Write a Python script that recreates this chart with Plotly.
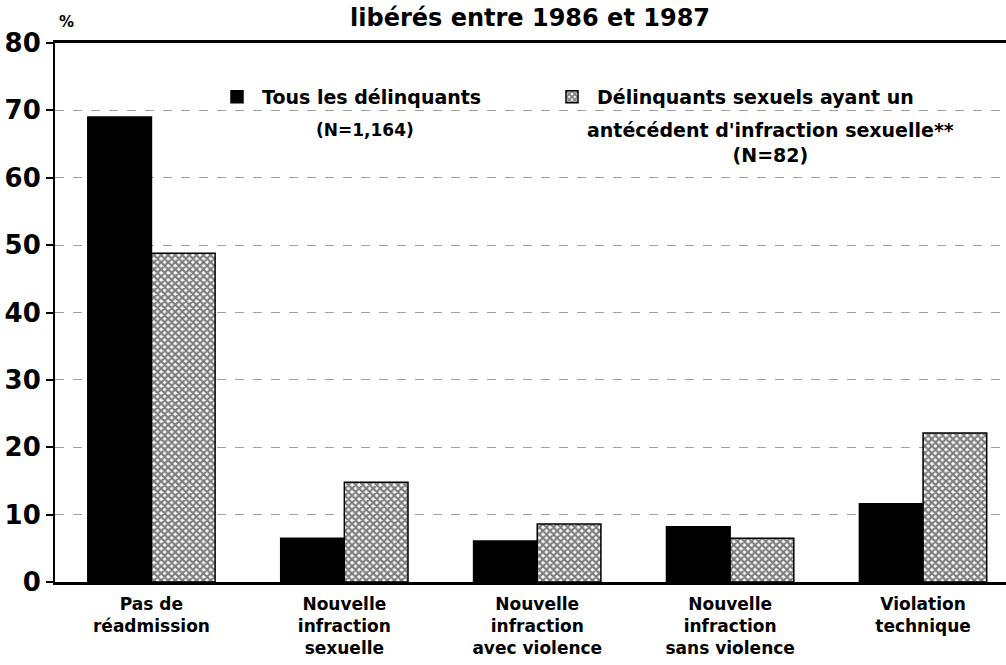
import plotly.graph_objects as go

categories = ["Pas de<br>réadmission", "Nouvelle<br>infraction<br>sexuelle",
              "Nouvelle<br>infraction<br>avec violence", "Nouvelle<br>infraction<br>sans violence",
              "Violation<br>technique"]
tous = [69.0, 6.5, 6.1, 8.2, 11.6]
sexuels = [48.8, 14.8, 8.6, 6.5, 22.1]
y_ticks = [0, 10, 20, 30, 40, 50, 60, 70, 80]

FONT = "DejaVu Sans"

fig = go.Figure()
fig.add_trace(go.Bar(
    x=categories, y=tous, name="Tous les délinquants", legend="legend",
    marker=dict(color="black", line=dict(color="black", width=1.5)),
))
fig.add_trace(go.Bar(
    x=categories, y=sexuels, name="Délinquants sexuels ayant un", legend="legend2",
    marker=dict(color="white", line=dict(color="black", width=1.5),
                pattern=dict(shape="x", fgcolor="black", bgcolor="white", size=5, solidity=0.7)),
))

leg_font = dict(family=FONT, size=19, color="black", weight="bold")
fig.update_layout(
    width=1006, height=665,
    margin=dict(l=55, r=0, t=43, b=83),
    paper_bgcolor="white", plot_bgcolor="white",
    barmode="group", bargap=0.34, bargroupgap=0,
    font=dict(family=FONT, color="black"),
    showlegend=True,
    legend=dict(x=(212 - 55) / 951, y=(582 - 97) / 539, xanchor="left", yanchor="middle",
                font=leg_font, bgcolor="rgba(0,0,0,0)", itemwidth=40),
    legend2=dict(x=(547 - 55) / 951, y=(582 - 97) / 539, xanchor="left", yanchor="middle",
                 font=leg_font, bgcolor="rgba(0,0,0,0)", itemwidth=40),
    xaxis=dict(range=[-0.5, 4.43], showline=True, mirror=True, linecolor="black", linewidth=2.5,
               ticks="", tickfont=dict(family=FONT, size=17, color="black", weight="bold"),
               ticklabelstandoff=5,
               showgrid=False, automargin=False),
    yaxis=dict(range=[0, 80], tickvals=y_ticks, showline=True, linecolor="black", linewidth=2,
               ticks="outside", ticklen=7, tickwidth=2, tickcolor="black",
               tickfont=dict(family=FONT, size=26, color="black", weight="bold"),
               showgrid=True, gridcolor="#a0a0a0", gridwidth=1, griddash="dash", zeroline=False,
               automargin=False),
    annotations=[
        dict(text="libérés entre 1986 et 1987", xref="paper", yref="paper", x=0.499, y=1.0,
             xanchor="center", yanchor="bottom", yshift=9, showarrow=False,
             font=dict(family=FONT, size=24, color="black", weight="bold")),
        dict(text="%", xref="paper", yref="paper", x=0.0, y=1.0, xanchor="left", yanchor="bottom",
             xshift=2, yshift=10, showarrow=False,
             font=dict(family=FONT, size=15, color="black", weight="bold")),
        dict(text="(N=1,164)", xref="paper", yref="paper", x=(365 - 55) / 951, y=(582 - 130) / 539,
             xanchor="center", yanchor="middle", showarrow=False,
             font=dict(family=FONT, size=17, color="black", weight="bold")),
        dict(text="antécédent d'infraction sexuelle**<br>(N=82)", xref="paper", yref="paper",
             x=(770 - 55) / 951, y=(582 - 142) / 539, xanchor="center", yanchor="middle",
             showarrow=False, align="center",
             font=dict(family=FONT, size=19, color="black", weight="bold")),
    ],
)

fig.write_html("out.html", config={"displayModeBar": False},
               post_script="document.body.style.margin='0';")
